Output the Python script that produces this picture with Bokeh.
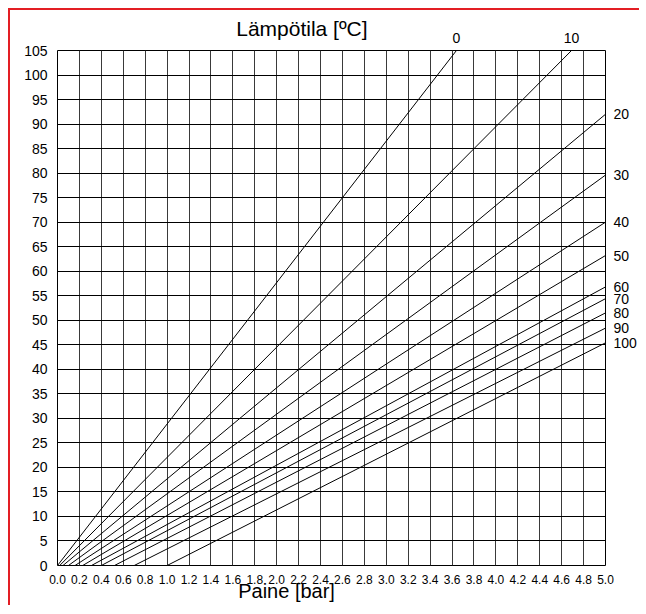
from bokeh.plotting import figure
from bokeh.models import (FixedTicker, PrintfTickFormatter, ColumnDataSource,
                          Range1d, LinearAxis)
from bokeh.embed import file_html
from bokeh.resources import INLINE

# Data
temps = ["0", "10", "20", "30", "40", "50", "60", "70", "80", "90", "100"]
start_pressure = [0.0, 0.02, 0.05, 0.10, 0.16, 0.23, 0.31, 0.40, 0.52, 0.70, 1.00]
end_pressure = [3.64, 4.69, 5.0, 5.0, 5.0, 5.0, 5.0, 5.0, 5.0, 5.0, 5.0]
end_temp = [105, 105, 92.0, 79.6, 70.0, 63.2, 56.8, 54.4, 51.5, 48.4, 45.4]

x_ticks = [0.0, 0.2, 0.4, 0.6, 0.8, 1.0, 1.2, 1.4, 1.6, 1.8, 2.0, 2.2, 2.4, 2.6,
           2.8, 3.0, 3.2, 3.4, 3.6, 3.8, 4.0, 4.2, 4.4, 4.6, 4.8, 5.0]
y_ticks = [0, 5, 10, 15, 20, 25, 30, 35, 40, 45, 50, 55, 60, 65, 70, 75, 80,
           85, 90, 95, 100, 105]

title_text = "Lämpötila [ºC]"
title_pos = 2.23
xlabel_text = "Paine [bar]"
xlabel_pos = 2.09

FONT = "Liberation Sans"

p = figure(frame_width=548, frame_height=515, output_backend="svg",
           toolbar_location=None, title=None,
           x_range=Range1d(0, 5.0), y_range=Range1d(0, 105),
           min_border_left=47, min_border_right=28,
           min_border_top=40, min_border_bottom=40)
p.styles = {"border-top": "2px solid #e31e24", "border-left": "2px solid #e31e24",
            "margin-left": "8px", "margin-top": "8px"}
p.background_fill_color = "white"
p.border_fill_color = "white"
p.outline_line_color = "black"
p.outline_line_width = 1

p.xaxis.ticker = FixedTicker(ticks=x_ticks)
p.yaxis.ticker = FixedTicker(ticks=y_ticks)
p.xaxis.formatter = PrintfTickFormatter(format="%.1f")
p.xaxis.major_label_text_font_size = "12px"
p.yaxis.major_label_text_font_size = "14px"
p.xaxis.major_label_standoff = 3
p.yaxis.major_label_standoff = 4

# x axis title as a second bottom axis with one labelled tick
xlab_ax = LinearAxis(ticker=FixedTicker(ticks=[xlabel_pos]),
                     major_label_overrides={xlabel_pos: xlabel_text},
                     major_label_standoff=-13, major_label_text_font_size="20px")
p.add_layout(xlab_ax, "below")

# line labels on the right (lines ending at 5.0 bar)
right_vals = [t for t, x in zip(end_temp, end_pressure) if x >= 5.0]
right_names = [n for n, x in zip(temps, end_pressure) if x >= 5.0]
right_ax = LinearAxis(ticker=FixedTicker(ticks=right_vals),
                      major_label_overrides={v: n for v, n in zip(right_vals, right_names)},
                      major_label_standoff=2, major_label_text_font_size="14px")
p.add_layout(right_ax, "right")

# line labels on top (lines ending at 105)
top_vals = [x for t, x in zip(end_temp, end_pressure) if t >= 105]
top_names = [n for n, t in zip(temps, end_temp) if t >= 105]
top_ax = LinearAxis(ticker=FixedTicker(ticks=top_vals),
                    major_label_overrides={v: n for v, n in zip(top_vals, top_names)},
                    major_label_standoff=2, major_label_text_font_size="14px")
p.add_layout(top_ax, "above")

# chart title as a second top axis with one labelled tick
title_ax = LinearAxis(ticker=FixedTicker(ticks=[title_pos]),
                      major_label_overrides={title_pos: title_text},
                      major_label_standoff=-16, major_label_text_font_size="21px")
p.add_layout(title_ax, "above")

for ax in p.axis:
    ax.axis_line_color = None
    ax.major_tick_line_color = None
    ax.minor_tick_line_color = None
    ax.major_label_text_font = FONT
    ax.major_label_text_color = "black"

p.xgrid.grid_line_color = "#3a3a3a"
p.xgrid.grid_line_width = 1
p.ygrid.grid_line_color = "black"
p.ygrid.grid_line_width = 1

src = ColumnDataSource(dict(x0=start_pressure, y0=[0] * len(temps),
                            x1=end_pressure, y1=end_temp, name=temps))
p.segment(x0="x0", y0="y0", x1="x1", y1="y1", source=src,
          line_color="black", line_width=1)

open("out.html", "w").write(file_html(p, INLINE))
